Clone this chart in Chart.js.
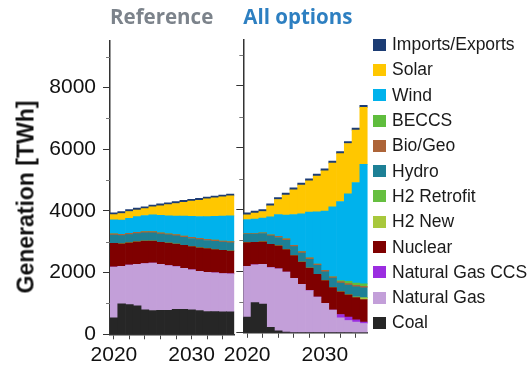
<!DOCTYPE html>
<html>
<head>
<meta charset="utf-8">
<script src="https://cdn.jsdelivr.net/npm/chart.js@4.4.1/dist/chart.umd.min.js"></script>
<style>
  html, body { margin: 0; padding: 0; background: #fff; overflow: hidden; }
  #wrap { position: relative; width: 531px; height: 365px; }
  canvas { position: absolute; top: 0; }
  #ytitle {
    position: absolute; left: 26px; top: 197px;
    transform: translate(-50%, -50%) rotate(-90deg);
    font: bold 23px "Liberation Sans", Arial, sans-serif;
    white-space: nowrap; color: #111;
  }
  #legend {
    position: absolute; left: 373px; top: 32px;
    font: 17.5px "Liberation Sans", Arial, sans-serif; color: #1a1a1a;
  }
  .item { display: flex; align-items: center; height: 25.3px; white-space: nowrap; }
  .sw { width: 13px; height: 12px; margin-right: 6px; flex: none; }
</style>
</head>
<body>
<div id="wrap">
  <canvas id="refChart" width="240" height="365" style="left:0px"></canvas>
  <canvas id="allChart" width="331" height="365" style="left:200px"></canvas>
  <div id="ytitle">Generation [TWh]</div>
  <div id="legend"></div>
</div>
<script>
// Years on the x axis
const years = [2020, 2021, 2022, 2023, 2024, 2025, 2026, 2027, 2028, 2029, 2030, 2031, 2032, 2033, 2034, 2035];
const xLabelYears = [2020, 2030];
const yTickValues = [0, 2000, 4000, 6000, 8000];
const yMinorValues = [1000, 3000, 5000, 7000, 9000];

// Technologies, bottom of the stack first
const techNames = ['Coal', 'Natural Gas', 'Natural Gas CCS', 'Nuclear', 'H2 New', 'H2 Retrofit',
                   'Hydro', 'Bio/Geo', 'BECCS', 'Wind', 'Solar', 'Imports/Exports'];
const techColors = ['#262626', '#c39fd9', '#9b2de0', '#7f0000', '#a8c83c', '#66bf40',
                    '#1d8096', '#ad6438', '#5fbd3d', '#00b2ec', '#ffc700', '#1c3c74'];

// Reference scenario generation (TWh)
const refCoal     = [530, 990, 960, 920, 790, 770, 775, 780, 810, 810, 790, 770, 740, 735, 725, 725];
const refGas      = [1650, 1215, 1280, 1350, 1505, 1535, 1490, 1450, 1385, 1325, 1300, 1275, 1270, 1255, 1245, 1235];
const refGasCcs   = [0, 0, 0, 0, 0, 0, 0, 0, 0, 0, 0, 0, 0, 0, 0, 0];
const refNuclear  = [770, 730, 725, 730, 730, 720, 715, 725, 730, 745, 750, 760, 765, 755, 750, 740];
const refH2New    = [0, 0, 0, 0, 0, 0, 0, 0, 0, 0, 0, 0, 0, 0, 0, 0];
const refH2Retro  = [0, 0, 0, 0, 0, 0, 0, 0, 0, 0, 0, 0, 0, 0, 0, 0];
const refHydro    = [265, 265, 265, 265, 265, 265, 265, 265, 265, 265, 265, 265, 265, 265, 265, 265];
const refBioGeo   = [40, 40, 40, 40, 40, 40, 40, 40, 40, 40, 40, 40, 40, 40, 40, 40];
const refBeccs    = [0, 0, 0, 0, 0, 0, 0, 0, 0, 0, 0, 0, 0, 0, 0, 0];
const refWind     = [455, 460, 490, 510, 520, 540, 575, 580, 605, 645, 675, 708, 736, 770, 805, 835];
const refSolar    = [170, 215, 220, 215, 225, 260, 305, 365, 405, 450, 495, 527, 574, 600, 625, 645];
const refImports  = [60, 60, 60, 60, 60, 60, 60, 60, 60, 60, 60, 60, 60, 60, 60, 60];

// "All options" scenario generation (TWh)
const allCoal     = [510, 980, 930, 175, 65, 25, 15, 15, 15, 15, 15, 15, 15, 10, 0, 0];
const allGas      = [1648, 1227, 1288, 1940, 2012, 1945, 1754, 1559, 1354, 1143, 943, 721, 472, 389, 344, 302];
const allGasCcs   = [0, 0, 0, 0, 0, 0, 0, 0, 0, 0, 0, 0, 107, 108, 78, 42];
const allNuclear  = [766, 728, 728, 755, 739, 727, 733, 722, 732, 737, 731, 726, 736, 723, 718, 736];
const allH2New    = [0, 0, 0, 0, 0, 0, 0, 0, 0, 0, 0, 0, 0, 0, 20, 50];
const allH2Retro  = [0, 0, 0, 0, 0, 0, 0, 0, 0, 0, 0, 0, 0, 0, 0, 0];
const allHydro    = [272, 261, 272, 273, 274, 300, 290, 290, 280, 290, 290, 310, 285, 320, 330, 330];
const allBioGeo   = [20, 20, 20, 30, 40, 45, 45, 45, 45, 45, 45, 45, 45, 45, 45, 45];
const allBeccs    = [0, 0, 0, 0, 0, 0, 0, 0, 0, 0, 0, 0, 30, 70, 80, 80];
const allWind     = [455, 466, 477, 585, 704, 770, 997, 1224, 1484, 1690, 1918, 2266, 2566, 2840, 3258, 3873];
const allSolar    = [152, 195, 216, 357, 487, 650, 801, 932, 1018, 1159, 1311, 1419, 1549, 1631, 1695, 1847];
const allImports  = [65, 65, 65, 65, 65, 65, 65, 65, 65, 65, 65, 65, 65, 65, 65, 65];

const refSeries = [refCoal, refGas, refGasCcs, refNuclear, refH2New, refH2Retro,
                   refHydro, refBioGeo, refBeccs, refWind, refSolar, refImports];
const allSeries = [allCoal, allGas, allGasCcs, allNuclear, allH2New, allH2Retro,
                   allHydro, allBioGeo, allBeccs, allWind, allSolar, allImports];

const axisFont = { family: '"Liberation Sans", Arial, sans-serif', size: 21 };

// short unlabeled ticks between the labelled ones on the value axis
const minorTicks = {
  id: 'minorTicks',
  afterDraw(chart) {
    const s = chart.scales.y, ctx = chart.ctx;
    ctx.save();
    ctx.strokeStyle = '#777';
    ctx.lineWidth = 1;
    ctx.beginPath();
    yMinorValues.forEach(v => {
      const py = Math.round(s.getPixelForValue(v)) + 0.5;
      ctx.moveTo(s.right - 4, py);
      ctx.lineTo(s.right, py);
    });
    ctx.stroke();
    ctx.restore();
  }
};

function makePanel(id, title, titleColor, series, g) {
  return new Chart(document.getElementById(id), {
    type: 'bar',
    data: {
      labels: years,
      datasets: series.map((vals, i) => ({
        label: techNames[i],
        data: vals,
        backgroundColor: techColors[i],
        borderWidth: 0,
        barPercentage: 1,
        categoryPercentage: 1
      }))
    },
    options: {
      responsive: false,
      animation: false,
      devicePixelRatio: 1,
      layout: { padding: { left: 0, top: 0, bottom: 0, right: g.padRight } },
      plugins: {
        legend: { display: false },
        tooltip: { enabled: false },
        title: {
          display: true, text: title, align: 'start', fullSize: false,
          color: titleColor,
          font: { family: '"Open Sans", sans-serif', weight: 'bold', size: 20.5 },
          padding: { top: g.titleTop, bottom: g.titleBottom }
        }
      },
      scales: {
        x: {
          stacked: true,
          offset: true,
          afterFit: s => { s.height = g.xHeight; },
          border: { display: true, color: '#333', width: 1.5 },
          grid: {
            offset: false, drawOnChartArea: false, drawTicks: true, tickLength: 5,
            tickColor: c => (c.index % 2 === 0 ? '#444' : 'rgba(0,0,0,0)')
          },
          ticks: {
            autoSkip: false, maxRotation: 0, minRotation: 0, padding: g.xPad,
            color: '#111', font: axisFont,
            callback: function (v, i) {
              const yr = years[i];
              return xLabelYears.includes(yr) ? String(yr) : '';
            }
          }
        },
        y: {
          stacked: true,
          min: 0, max: 9500,
          afterFit: s => { s.width = g.yWidth; },
          afterBuildTicks: s => { s.ticks = yTickValues.map(v => ({ value: v })); },
          border: { display: true, color: '#333', width: 1.5 },
          grid: { drawOnChartArea: false, drawTicks: true, tickLength: 7, tickColor: '#333' },
          ticks: {
            padding: 7, color: '#111', font: axisFont,
            callback: v => (g.showY ? String(v) : '')
          }
        }
      }
    },
    plugins: [minorTicks]
  });
}

makePanel('refChart', 'Reference', '#7c838b', refSeries,
  { padRight: 5.7, yWidth: 110, xHeight: 30.7, xPad: 3.6, titleTop: 5.7, titleBottom: 10.9, showY: true });
makePanel('allChart', 'All options', '#2d7fc1', allSeries,
  { padRight: 163.4, yWidth: 43.3, xHeight: 32.2, xPad: 5.1, titleTop: 5.7, titleBottom: 9.4, showY: false });

// legend, top of the stack first
const legend = document.getElementById('legend');
for (let i = techNames.length - 1; i >= 0; i--) {
  const row = document.createElement('div');
  row.className = 'item';
  const sw = document.createElement('span');
  sw.className = 'sw';
  sw.style.background = techColors[i];
  const tx = document.createElement('span');
  tx.textContent = techNames[i];
  row.appendChild(sw);
  row.appendChild(tx);
  legend.appendChild(row);
}
</script>
</body>
</html>
